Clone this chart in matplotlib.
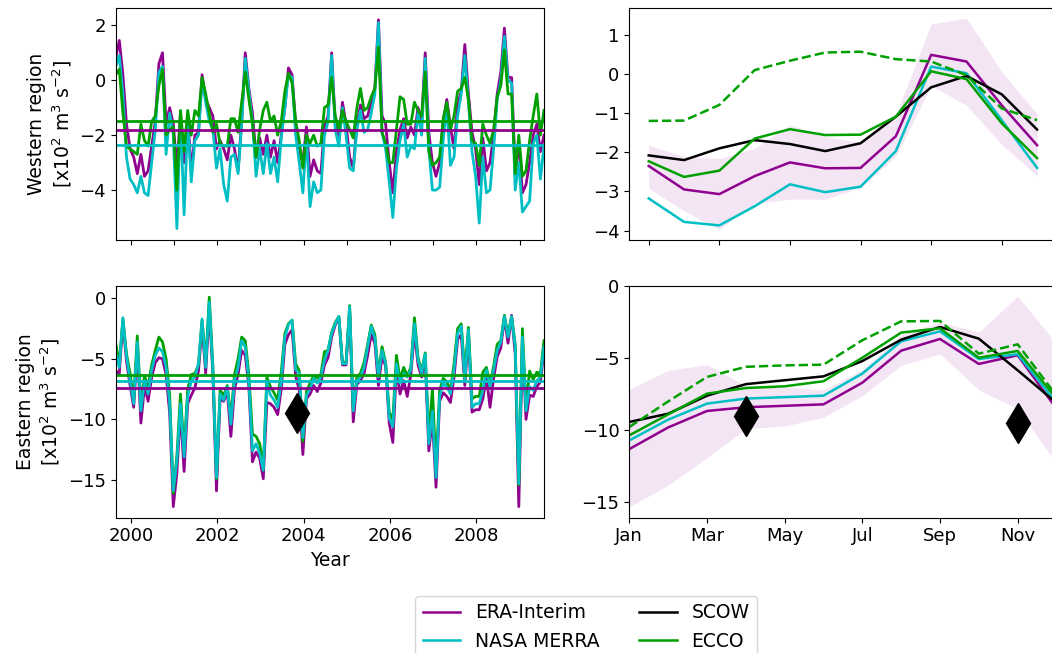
import numpy as np
import matplotlib
matplotlib.use('Agg')
import matplotlib.pyplot as plt
from matplotlib.lines import Line2D

plt.rcParams['font.family'] = ['DejaVu Sans']
plt.rcParams['font.size'] = 13.5
plt.rcParams['xtick.labelsize'] = 13
plt.rcParams['ytick.labelsize'] = 13

# ---------------- data ----------------
start_year = 1999.65  # first monthly sample (decimal year)

west_era = [0.8, 1.45, 0.2, -1.6, -2.5, -2.8, -3.4, -2.7, -3.5, -3.3,
            -2.4, -1.5, 0.6, 1.0, -1.6, -1.0, -1.6, -3.2, -1.2, -3.0,
            -1.3, -3.3, -2.0, -1.9, 0.2, -0.7, -1.0, -1.3, -2.5, -2.2,
            -2.5, -2.9, -2.0, -2.5, -3.3, -1.5, 1.0, -0.3, -1.2, -2.8,
            -2.1, -2.7, -2.0, -2.8, -2.2, -3.0, -2.0, -1.0, 0.45, 0.2,
            -1.6, -2.5, -3.0, -1.7, -3.5, -2.9, -3.3, -3.4, -1.7, -1.3,
            1.0, -1.6, -2.2, -0.8, -1.6, -2.8, -3.2, -1.6, -0.9, -1.4,
            -1.3, -0.8, -0.3, 2.2, -1.3, -1.6, -3.0, -4.1, -2.6, -1.8,
            -1.4, -2.1, -1.7, -2.0, -1.0, -1.5, 1.0, -1.9, -3.0, -3.5,
            -3.0, -1.5, -0.7, -1.7, -2.5, -0.9, -0.4, 1.3, -0.5, -1.9,
            -2.5, -3.8, -2.1, -3.3, -3.0, -2.0, -0.5, 0.3, 1.9, 0.1,
            0.1, -3.3, -2.3, -4.1, -3.8, -3.0, -2.0, -1.6, -2.6, -2.0]
west_merra = [0.5, 0.9, -0.5, -2.8, -3.6, -3.8, -4.1, -3.5, -4.1, -4.2,
              -3.0, -1.8, 0.3, 0.5, -2.7, -1.2, -2.0, -5.4, -1.2, -4.9,
              -1.5, -3.7, -2.2, -2.0, 0.0, -0.8, -1.5, -1.8, -3.2, -2.5,
              -3.8, -4.4, -2.8, -2.7, -3.4, -1.6, 0.8, -0.4, -1.5, -3.5,
              -2.5, -3.4, -2.3, -3.4, -2.8, -3.7, -2.1, -1.0, 0.2, 0.1,
              -2.0, -3.0, -4.1, -2.0, -4.6, -3.7, -4.1, -4.0, -2.0, -1.5,
              0.9, -1.8, -2.4, -1.0, -2.0, -3.2, -3.3, -1.8, -1.1, -1.9,
              -1.8, -1.2, -0.5, 2.1, -1.9, -2.5, -3.7, -5.0, -3.2, -2.2,
              -1.6, -2.8, -2.4, -2.5, -1.2, -2.0, 0.8, -2.5, -4.0, -4.0,
              -3.9, -2.2, -0.9, -3.1, -2.8, -1.3, -0.5, 0.9, -0.8, -2.6,
              -3.5, -5.2, -2.8, -4.1, -4.0, -2.5, -0.7, 0.0, 1.6, 0.0,
              -0.1, -4.0, -3.0, -4.8, -4.6, -4.4, -2.3, -2.0, -3.6, -2.4]
west_ecco = [0.2, 0.4, -1.2, -2.4, -2.5, -2.6, -2.7, -1.6, -2.2, -2.4,
             -1.5, -1.3, -0.2, 0.4, -2.0, -1.8, -1.7, -4.0, -1.1, -2.6,
             -1.1, -2.0, -1.1, -1.3, 0.1, -0.5, -1.2, -1.9, -1.6, -2.3,
             -2.4, -2.4, -1.4, -1.4, -1.9, -0.8, 0.3, -0.7, -1.6, -2.8,
             -1.8, -1.1, -0.8, -1.5, -1.3, -2.0, -1.5, -0.4, 0.25, -0.1,
             -1.5, -2.2, -3.2, -2.0, -2.3, -2.0, -2.4, -2.3, -1.0, -0.9,
             0.1, -1.3, -1.8, -1.1, -1.5, -1.8, -2.1, -1.0, -0.3, -1.1,
             -1.0, -0.6, -0.3, 1.2, -1.9, -2.3, -3.0, -3.0, -1.8, -0.6,
             -0.7, -1.6, -1.6, -0.8, -1.1, -1.3, 0.3, -2.6, -3.1, -3.0,
             -2.8, -1.4, -0.8, -1.8, -1.3, -0.4, -0.3, 0.1, -0.7, -2.2,
             -2.3, -3.1, -1.6, -2.0, -2.3, -1.8, -0.6, -0.2, 1.1, -0.5,
             -0.5, -3.4, -2.0, -3.5, -3.3, -2.2, -1.3, -0.5, -2.0, -1.1]

east_era = [-6.0, -6.2, -1.9, -5.2, -7.2, -9.0, -4.0, -10.3, -7.3, -8.5,
            -6.5, -5.3, -4.9, -5.0, -6.3, -9.5, -17.2, -14.4, -9.3, -14.3,
            -8.7, -8.0, -7.4, -6.0, -2.2, -6.2, -0.8, -6.3, -15.9, -8.3,
            -8.5, -7.7, -11.4, -7.5, -6.3, -4.3, -4.7, -7.3, -13.5, -12.7,
            -13.2, -14.9, -8.6, -8.7, -9.0, -9.6, -7.5, -3.8, -3.0, -2.6,
            -6.4, -7.6, -12.9, -8.3, -7.9, -7.2, -7.7, -7.0, -5.5, -4.9,
            -3.2, -2.2, -1.6, -5.5, -5.5, -1.0, -10.2, -7.1, -6.8, -6.2,
            -4.7, -3.0, -3.7, -7.2, -4.8, -5.6, -10.3, -11.9, -5.8, -7.9,
            -6.8, -8.1, -6.3, -2.8, -5.5, -6.5, -5.0, -12.6, -10.0, -15.6,
            -8.5, -7.8, -8.1, -8.6, -6.5, -3.4, -3.0, -7.2, -3.0, -9.4,
            -9.2, -9.2, -8.3, -6.5, -9.0, -6.6, -4.8, -4.1, -1.6, -3.7,
            -1.4, -4.6, -17.2, -3.5, -10.0, -8.0, -8.1, -7.3, -6.9, -4.3]
east_merra = [-4.5, -5.7, -1.6, -4.8, -6.8, -8.7, -3.6, -9.3, -6.8, -7.9,
              -5.9, -4.7, -4.1, -4.4, -5.7, -8.7, -15.9, -13.4, -8.7, -13.1,
              -8.1, -6.8, -6.5, -5.4, -1.7, -5.7, -0.3, -5.9, -14.8, -7.9,
              -8.4, -7.3, -10.4, -6.8, -5.7, -3.5, -4.0, -6.8, -12.6, -12.0,
              -12.8, -14.2, -7.0, -8.0, -8.4, -9.0, -6.8, -3.2, -2.2, -1.8,
              -5.9, -6.2, -11.5, -8.0, -7.5, -6.6, -7.0, -6.5, -5.1, -4.3,
              -2.9, -2.1, -1.5, -5.4, -5.4, -0.7, -9.3, -6.8, -6.5, -5.7,
              -4.0, -2.3, -3.3, -6.5, -4.3, -5.4, -9.9, -10.6, -5.4, -7.0,
              -6.2, -6.5, -5.9, -2.1, -5.1, -6.2, -4.6, -12.0, -9.3, -14.8,
              -8.1, -7.0, -7.3, -7.9, -5.9, -2.9, -2.3, -6.8, -2.6, -9.0,
              -8.7, -8.7, -7.6, -5.9, -7.3, -5.9, -4.3, -3.6, -1.5, -3.2,
              -1.5, -4.0, -15.3, -3.2, -9.3, -7.3, -7.6, -6.8, -6.5, -4.0]
east_ecco = [-3.7, -5.5, -1.7, -4.6, -6.2, -8.4, -3.1, -8.8, -6.4, -7.3,
             -5.5, -4.3, -3.2, -3.6, -5.0, -8.0, -16.1, -13.0, -7.9, -12.6,
             -7.5, -6.3, -6.2, -5.5, -1.8, -5.3, 0.1, -5.6, -14.9, -7.6,
             -8.0, -7.2, -9.9, -6.3, -5.0, -3.2, -3.5, -6.3, -11.2, -11.4,
             -12.0, -14.0, -6.5, -7.3, -7.8, -8.4, -6.1, -2.9, -2.1, -1.8,
             -5.4, -6.0, -11.8, -7.7, -7.0, -6.4, -6.6, -6.3, -4.4, -4.3,
             -2.8, -2.0, -1.5, -5.3, -5.3, -0.6, -9.2, -6.5, -6.2, -5.3,
             -3.8, -2.2, -3.0, -6.3, -4.0, -5.3, -9.4, -10.0, -4.7, -6.7,
             -5.7, -6.4, -5.7, -1.6, -4.9, -6.0, -4.5, -11.5, -7.5, -14.0,
             -7.6, -6.6, -6.9, -7.6, -5.4, -2.5, -2.1, -6.2, -2.4, -8.3,
             -8.1, -8.1, -6.1, -5.7, -7.1, -5.6, -3.8, -3.5, -1.4, -3.0,
             -1.5, -3.8, -15.4, -2.5, -9.0, -6.0, -6.7, -6.1, -6.2, -3.5]

# mean levels drawn as horizontal lines
west_means = {'era': -1.8, 'merra': -2.37, 'ecco': -1.5}
east_means = {'era': -7.4, 'merra': -6.8, 'ecco': -6.3}

# monthly climatology
months = ['Jan', 'Feb', 'Mar', 'Apr', 'May', 'Jun',
          'Jul', 'Aug', 'Sep', 'Oct', 'Nov', 'Dec']
wc_era = [-2.35, -2.95, -3.07, -2.61, -2.26, -2.41, -2.40, -1.59, 0.49, 0.32, -0.80, -1.82]
wc_merra = [-3.18, -3.78, -3.87, -3.38, -2.82, -3.02, -2.88, -1.97, 0.19, 0.02, -1.18, -2.40]
wc_ecco = [-2.23, -2.63, -2.47, -1.65, -1.41, -1.56, -1.55, -1.09, 0.07, -0.13, -1.26, -2.15]
wc_ecco2 = [-1.20, -1.19, -0.79, 0.10, 0.34, 0.55, 0.57, 0.38, 0.32, -0.03, -0.88, -1.18]
wc_scow = [-2.08, -2.20, -1.90, -1.69, -1.79, -1.97, -1.77, -1.09, -0.34, -0.05, -0.52, -1.42]
wc_lo = [-2.92, -3.50, -3.97, -3.30, -3.20, -3.20, -2.90, -2.10, -0.30, -0.80, -1.80, -2.60]
wc_hi = [-1.82, -2.11, -2.16, -1.90, -1.30, -1.60, -1.75, -1.05, 1.28, 1.43, 0.06, -1.02]

ec_era = [-11.3, -9.8, -8.66, -8.4, -8.3, -8.2, -6.7, -4.48, -3.67, -5.4, -4.8, -8.5]
ec_merra = [-10.7, -9.26, -8.15, -7.8, -7.7, -7.6, -6.07, -3.83, -3.14, -5.06, -4.73, -8.1]
ec_ecco = [-10.35, -8.9, -7.46, -7.07, -6.95, -6.6, -4.97, -3.23, -2.93, -4.97, -4.5, -7.8]
ec_ecco2 = [-9.77, -8.0, -6.3, -5.6, -5.5, -5.45, -3.76, -2.45, -2.42, -4.69, -4.04, -7.6]
ec_scow = [-9.42, -8.85, -7.6, -6.8, -6.53, -6.26, -5.2, -3.72, -2.84, -3.65, -5.84, -8.1]
ec_lo = [-15.3, -13.8, -11.9, -9.9, -9.7, -9.1, -7.6, -5.5, -4.7, -7.2, -8.5, -12.3]
ec_hi = [-7.16, -5.84, -5.45, -6.9, -7.0, -7.2, -5.8, -3.4, -2.5, -3.2, -0.7, -4.0]

# diamonds
ts_diamond = (2003.85, -9.5)
clim_diamonds_x = [3, 10]
clim_diamonds_y = [-9.0, -9.5]

# ---------------- style ----------------
C_ERA = '#8f008f'
C_MERRA = '#00bfc4'
C_ECCO = '#00a000'
C_SCOW = 'black'

W, H = 1052, 653
fig = plt.figure(figsize=(W / 100, H / 100), dpi=100)

def pos(x0, x1, y0, y1):
    return [x0 / W, 1 - y1 / H, (x1 - x0) / W, (y1 - y0) / H]

ax_tl = fig.add_axes(pos(115.7, 544, 8.3, 239.5))
ax_bl = fig.add_axes(pos(115.7, 544, 286, 517.5))
ax_tr = fig.add_axes(pos(629.3, 1056.5, 8.3, 239.5))
ax_br = fig.add_axes(pos(629.3, 1056.5, 286, 517.5))

t = start_year + np.arange(len(west_era)) / 12.0

lw_ts = 2.0
# top-left
ax_tl.plot(t, west_era, color=C_ERA, lw=lw_ts)
ax_tl.plot(t, west_merra, color=C_MERRA, lw=lw_ts)
ax_tl.plot(t, west_ecco, color=C_ECCO, lw=lw_ts)
ax_tl.axhline(west_means['era'], color=C_ERA, lw=lw_ts)
ax_tl.axhline(west_means['merra'], color=C_MERRA, lw=lw_ts)
ax_tl.axhline(west_means['ecco'], color=C_ECCO, lw=lw_ts)
ax_tl.set_xlim(t[0], t[-1])
ax_tl.set_ylim(-5.8, 2.62)
ax_tl.set_yticks([2, 0, -2, -4])
ax_tl.set_xticks(np.arange(2000, 2010))
ax_tl.set_xticklabels([])
ax_tl.set_ylabel('Western region\n[x10$^2$ m$^3$ s$^{-2}$]')

# bottom-left
ax_bl.plot(t, east_era, color=C_ERA, lw=lw_ts)
ax_bl.plot(t, east_ecco, color=C_ECCO, lw=lw_ts)
ax_bl.plot(t, east_merra, color=C_MERRA, lw=lw_ts)
ax_bl.axhline(east_means['ecco'], color=C_ECCO, lw=lw_ts)
ax_bl.axhline(east_means['merra'], color=C_MERRA, lw=lw_ts)
ax_bl.axhline(east_means['era'], color=C_ERA, lw=lw_ts)
ax_bl.plot([ts_diamond[0]], [ts_diamond[1]], marker='d', color='black',
           markersize=20, linestyle='none')
ax_bl.set_xlim(t[0], t[-1])
ax_bl.set_ylim(-18.1, 1.02)
ax_bl.set_yticks([0, -5, -10, -15])
ax_bl.set_xticks([2000, 2002, 2004, 2006, 2008])
ax_bl.set_xlabel('Year')
ax_bl.set_ylabel('Eastern region\n[x10$^2$ m$^3$ s$^{-2}$]')

m = np.arange(len(months))
lw_c = 1.8
# top-right
ax_tr.fill_between(m, wc_lo, wc_hi, color=C_ERA, alpha=0.1, lw=0)
ax_tr.plot(m, wc_era, color=C_ERA, lw=lw_c)
ax_tr.plot(m, wc_merra, color=C_MERRA, lw=lw_c)
ax_tr.plot(m, wc_scow, color=C_SCOW, lw=lw_c)
ax_tr.plot(m, wc_ecco, color=C_ECCO, lw=lw_c)
ax_tr.plot(m, wc_ecco2, color=C_ECCO, lw=lw_c, ls='--')
ax_tr.set_xlim(-0.55, 11.55)
ax_tr.set_ylim(-4.23, 1.68)
ax_tr.set_yticks([1, 0, -1, -2, -3, -4])
ax_tr.set_xticks(m[::2])
ax_tr.set_xticklabels([])

# bottom-right
ax_br.fill_between(m, ec_lo, ec_hi, color=C_ERA, alpha=0.1, lw=0)
ax_br.plot(m, ec_era, color=C_ERA, lw=lw_c)
ax_br.plot(m, ec_merra, color=C_MERRA, lw=lw_c)
ax_br.plot(m, ec_scow, color=C_SCOW, lw=lw_c)
ax_br.plot(m, ec_ecco, color=C_ECCO, lw=lw_c)
ax_br.plot(m, ec_ecco2, color=C_ECCO, lw=lw_c, ls='--')
ax_br.plot(clim_diamonds_x, clim_diamonds_y, marker='d', color='black',
           markersize=20, linestyle='none')
ax_br.set_xlim(0, 11)
ax_br.set_ylim(-16.04, 0)
ax_br.set_yticks([0, -5, -10, -15])
ax_br.set_xticks(m[::2])
ax_br.set_xticklabels(months[::2])

# legend
handles = [Line2D([], [], color=C_ERA, lw=lw_c, label='ERA-Interim'),
           Line2D([], [], color=C_MERRA, lw=lw_c, label='NASA MERRA'),
           Line2D([], [], color=C_SCOW, lw=lw_c, label='SCOW'),
           Line2D([], [], color=C_ECCO, lw=lw_c, label='ECCO')]
fig.legend(handles=handles, loc='upper left', ncol=2,
           bbox_to_anchor=(415 / W, 1 - 596 / H), borderaxespad=0,
           columnspacing=2.1)

fig.savefig('out.png', dpi=100)
